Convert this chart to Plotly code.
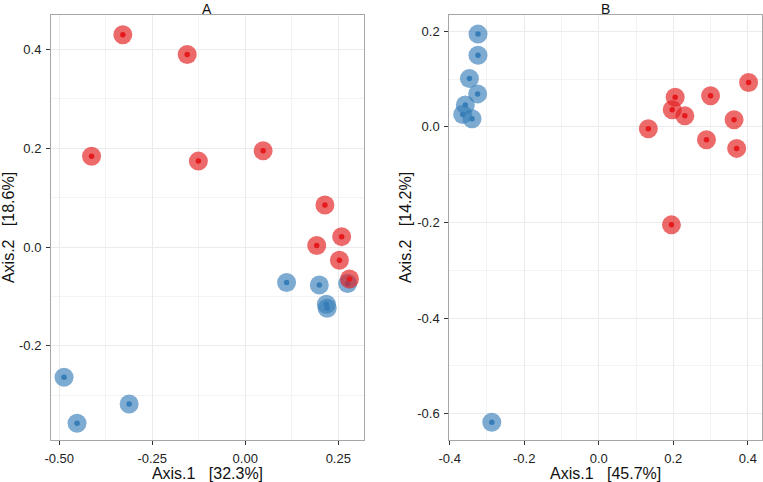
import plotly.graph_objects as go

# ---------------- data ----------------
a_red_x = [-0.329, -0.156, -0.413, -0.126, 0.048, 0.214, 0.259, 0.192, 0.253, 0.280]
a_red_y = [0.430, 0.390, 0.184, 0.174, 0.195, 0.085, 0.021, 0.003, -0.027, -0.065]
a_blue_x = [0.111, 0.199, 0.218, 0.220, 0.275, -0.487, -0.452, -0.312]
a_blue_y = [-0.072, -0.077, -0.116, -0.124, -0.074, -0.264, -0.357, -0.318]

b_red_x = [0.402, 0.205, 0.300, 0.197, 0.231, 0.363, 0.133, 0.289, 0.370, 0.195]
b_red_y = [0.093, 0.062, 0.065, 0.036, 0.023, 0.015, -0.004, -0.027, -0.045, -0.205]
b_blue_x = [-0.324, -0.324, -0.347, -0.325, -0.358, -0.365, -0.340, -0.287]
b_blue_y = [0.194, 0.150, 0.101, 0.069, 0.046, 0.026, 0.017, -0.618]

a_xticks = [-0.5, -0.25, 0.0, 0.25]
a_xlabels = ["-0.50", "-0.25", "0.00", "0.25"]
a_yticks = [-0.2, 0.0, 0.2, 0.4]
a_ylabels = ["-0.2", "0.0", "0.2", "0.4"]
b_xticks = [-0.4, -0.2, 0.0, 0.2, 0.4]
b_xlabels = ["-0.4", "-0.2", "0.0", "0.2", "0.4"]
b_yticks = [-0.6, -0.4, -0.2, 0.0, 0.2]
b_ylabels = ["-0.6", "-0.4", "-0.2", "0.0", "0.2"]

panel_titles = ["A", "B"]
a_xtitle = "Axis.1\u00a0\u00a0\u00a0[32.3%]"
a_ytitle = "Axis.2\u00a0\u00a0\u00a0[18.6%]"
b_xtitle = "Axis.1\u00a0\u00a0\u00a0[45.7%]"
b_ytitle = "Axis.2\u00a0\u00a0\u00a0[14.2%]"

RED = "#E41A1C"
BLUE = "#377EB8"

fig = go.Figure()


def add_group(x, y, color, xa, ya):
    fig.add_trace(go.Scatter(x=x, y=y, mode="markers", xaxis=xa, yaxis=ya,
                             marker=dict(size=19, color=color, opacity=0.65, line=dict(width=0)),
                             showlegend=False, hoverinfo="skip"))
    fig.add_trace(go.Scatter(x=x, y=y, mode="markers", xaxis=xa, yaxis=ya,
                             marker=dict(size=5.5, color=color, line=dict(width=0)),
                             showlegend=False))


add_group(a_blue_x, a_blue_y, BLUE, "x", "y")
add_group(a_red_x, a_red_y, RED, "x", "y")
add_group(b_blue_x, b_blue_y, BLUE, "x2", "y2")
add_group(b_red_x, b_red_y, RED, "x2", "y2")

FONT = "Liberation Sans, Arial, sans-serif"
common = dict(
    showgrid=True, gridcolor="#ebebeb", gridwidth=1,
    zeroline=False, showline=True, linecolor="#a6a6a6", linewidth=1, mirror=True,
    ticks="outside", ticklen=4, tickcolor="#333333", tickwidth=1,
    tickfont=dict(family=FONT, size=13, color="#222222"),
    tickmode="array",
)
minor = dict(showgrid=True, gridcolor="#f3f3f3", gridwidth=1, ticks="")
xtf = dict(font=dict(size=16, color="#111111"), standoff=1)
ytf = dict(font=dict(size=16, color="#111111"), standoff=1)

dA = [0.0, 0.4402]
dB = [0.5602, 1.0]

fig.update_layout(
    width=763, height=482,
    margin=dict(l=51, r=1, t=15, b=42),
    plot_bgcolor="white", paper_bgcolor="white",
    font=dict(family=FONT, size=13, color="#222222"),
    xaxis=dict(common, domain=dA, range=[-0.522, 0.319], tickvals=a_xticks, ticktext=a_xlabels,
               ticklabelstandoff=2,
               minor=dict(minor, tickvals=[-0.375, -0.125, 0.125]),
               title=dict(xtf, text=a_xtitle), anchor="y"),
    yaxis=dict(common, domain=[0, 1], range=[-0.391, 0.470], tickvals=a_yticks, ticktext=a_ylabels,
               ticklabelstandoff=2,
               minor=dict(minor, tickvals=[-0.3, -0.1, 0.1, 0.3]),
               title=dict(ytf, text=a_ytitle), anchor="x"),
    xaxis2=dict(common, domain=dB, range=[-0.401, 0.438], tickvals=b_xticks, ticktext=b_xlabels,
                ticklabelstandoff=2,
                minor=dict(minor, tickvals=[-0.3, -0.1, 0.1, 0.3]),
                title=dict(xtf, text=b_xtitle), anchor="y2"),
    yaxis2=dict(common, domain=[0, 1], range=[-0.655, 0.234], tickvals=b_yticks, ticktext=b_ylabels,
                ticklabelstandoff=2,
                minor=dict(minor, tickvals=[-0.5, -0.3, -0.1, 0.1]),
                title=dict(ytf, text=b_ytitle), anchor="x2"),
)

for txt, d in zip(panel_titles, [dA, dB]):
    fig.add_annotation(text=txt, x=(d[0] + d[1]) / 2, y=1, xref="paper", yref="paper",
                       xanchor="center", yanchor="bottom", showarrow=False, yshift=-4,
                       font=dict(family=FONT, size=14, color="#111111"))

fig.write_html("out.html", config={"displayModeBar": False},
               post_script="document.body.style.margin='0';document.body.style.overflow='hidden';")
